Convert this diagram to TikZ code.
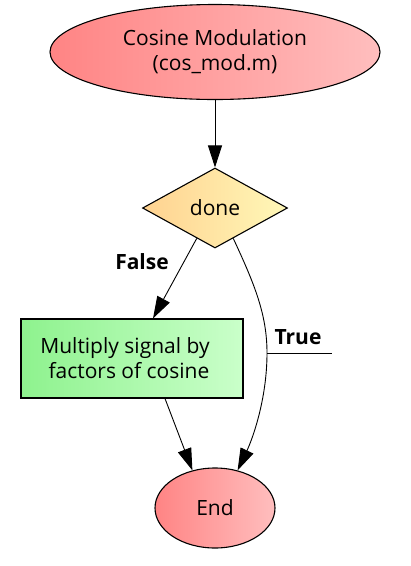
\documentclass[tikz,border=0pt]{standalone}
\usepackage{fontspec}
\setmainfont{Open Sans}
\usetikzlibrary{shapes.geometric,arrows.meta,calc}
\definecolor{ellL}{HTML}{FF8484}
\definecolor{ellR}{HTML}{FFBEBE}
\definecolor{diaL}{HTML}{FFD290}
\definecolor{diaR}{HTML}{FFF8B8}
\definecolor{boxL}{HTML}{8EF28E}
\definecolor{boxR}{HTML}{CAFFCA}
\begin{document}
\begin{tikzpicture}[x=1pt,y=-1pt,
  every node/.style={font=\fontsize{21}{25}\selectfont, align=center, inner sep=0pt},
  ell/.style={ellipse, draw, line width=1.1pt, left color=ellL, right color=ellR},
  dia/.style={diamond, draw, line width=1.1pt, left color=diaL, right color=diaR},
  stepbox/.style={rectangle, draw, line width=1.1pt, left color=boxL, right color=boxR},
  arr/.style={-{Triangle[length=22pt,width=14pt]}, line width=0.9pt},
  lbl/.style={font=\bfseries\fontsize{21}{24}\selectfont}
]
\useasboundingbox (0,0) rectangle (411,566);
\node[ell, minimum width=330, minimum height=95] (start) at (215,52) {Cosine Modulation\\(cos\_mod.m)};
\node[dia, minimum width=145, minimum height=80] (d) at (215,208) {done};
\node[stepbox, minimum width=222, minimum height=79] (b) at (132,358.5) {Multiply signal by\hspace*{14pt}\\ factors of cosine\hspace*{6pt}};
\node[ell, minimum width=120, minimum height=80] (e) at (215,508) {End};

\draw[arr] (start) -- (d);
\draw[arr] ($(d.south)!0.25!(d.west)$) -- ($(b.north)+(21,0)$);
\draw[arr] ($(b.south)+(33,0)$) -- (e.121);
\coordinate (tm) at (267,353);
\draw[arr] ($(d.south)!0.25!(d.east)$) .. controls (255,285) and (267,315) .. (tm) .. controls (267,400) and (252,440) .. (e.59);
\draw[line width=0.9pt] (tm) -- ++(65,0);
\node[lbl] (tl) at (298,337) {True};
\node[lbl] (fl) at (142,262) {False};
\end{tikzpicture}
\end{document}
